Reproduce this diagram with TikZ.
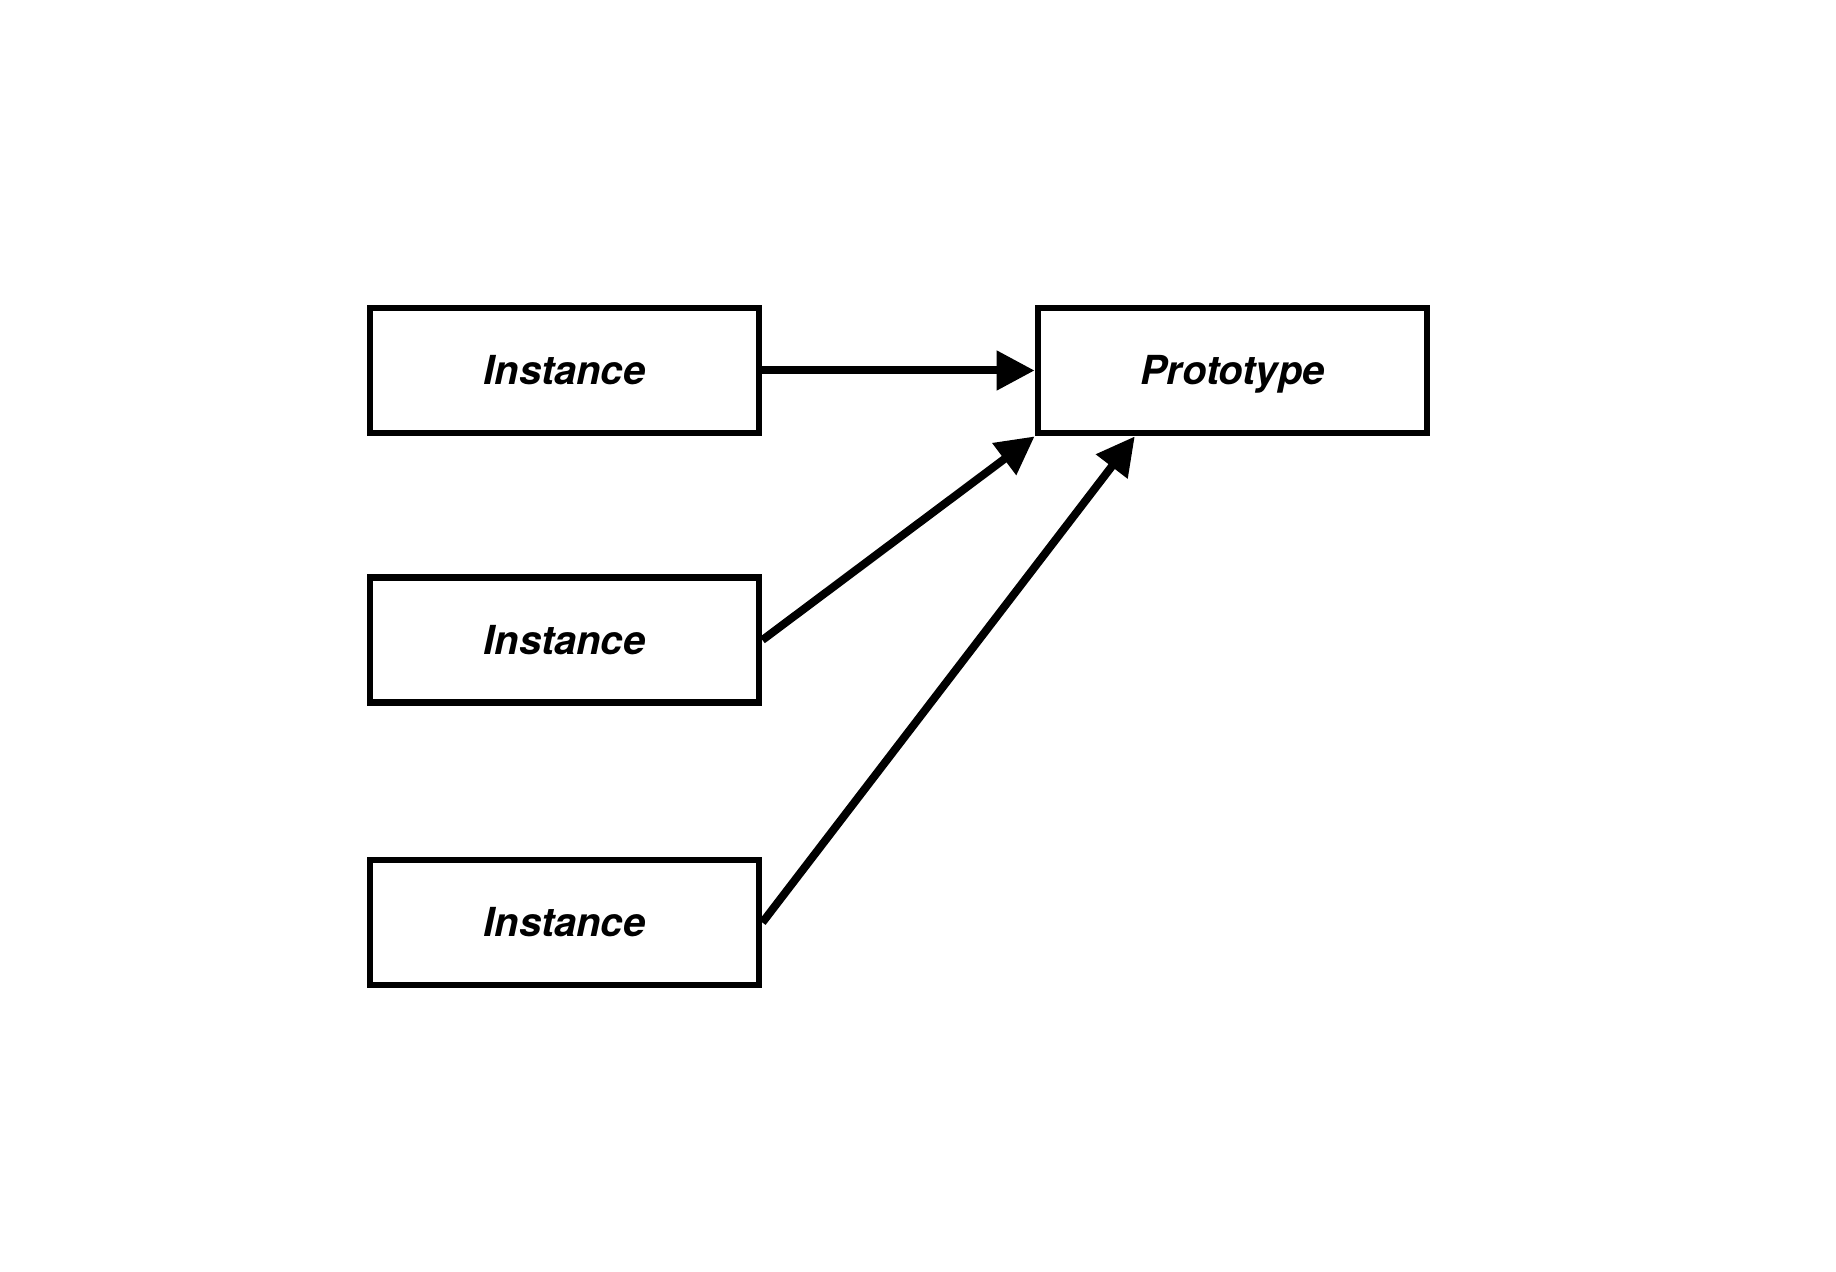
\documentclass[tikz,border=0pt]{standalone}
\usepackage{fontspec}
\setmainfont{TeX Gyre Heros}
\usetikzlibrary{arrows.meta}

\begin{document}
\begin{tikzpicture}[x=1pt,y=1pt]
\tikzstyle{every node}+=[inner sep=0pt]
\tikzstyle{objbox}=[draw=black, line width=3.4pt, minimum width=194.5pt, minimum height=62.5pt,
  font=\fontsize{20}{24}\selectfont\bfseries\itshape, text height=14.4pt, text depth=0pt]
\tikzstyle{link}=[draw=black, line width=4pt, -{Triangle[length=19pt,width=19pt]}]
\useasboundingbox (0,0) rectangle (918,-636);
\node [objbox] (inst1) at (282.25,-185.25) {Instance};
\node [objbox] (inst2) at (282.25,-320) {Instance};
\node [objbox] (inst3) at (282.25,-461.25) {Instance};
\node [objbox] (proto) at (616.25,-185.25) {Prototype};
\draw [link] (inst1.east) -- (proto.west);
\draw [link] (inst2.east) -- (proto.south west);
\draw [link] (inst3.east) -- (proto.214);
\end{tikzpicture}
\end{document}
